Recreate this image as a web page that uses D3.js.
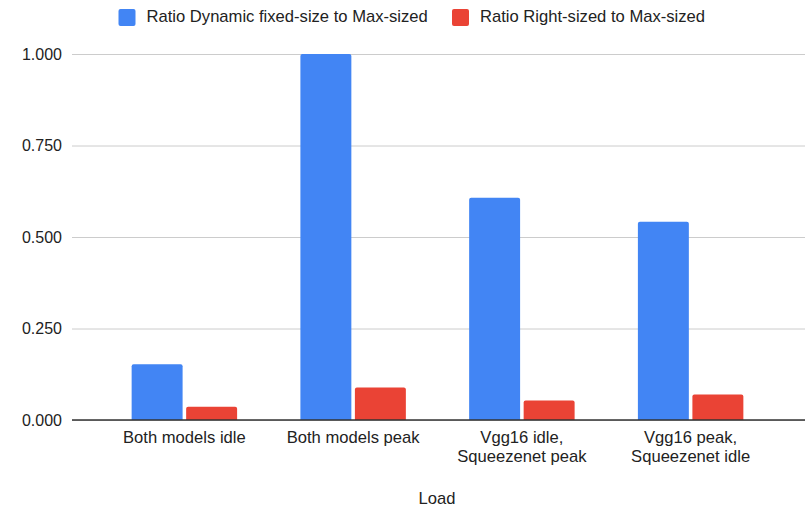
<!DOCTYPE html>
<html>
<head>
<meta charset="utf-8">
<script src="https://cdn.jsdelivr.net/npm/d3@7"></script>
<style>
  body { margin: 0; background: #fff; }
  svg { display: block; font-family: "Liberation Sans", Arial, sans-serif; }
</style>
</head>
<body>
<div id="chart"></div>
<script>
// Chart data.
const categories = [
    ['Both models idle'],
    ['Both models peak'],
    ['Vgg16 idle,', 'Squeezenet peak'],
    ['Vgg16 peak,', 'Squeezenet idle']
];
const seriesNames = ['Ratio Dynamic fixed-size to Max-sized', 'Ratio Right-sized to Max-sized'];
const dynamicFixed = [0.152, 1.000, 0.607, 0.542];
const rightSized = [0.036, 0.089, 0.053, 0.070];
const yTicks = [0, 0.25, 0.5, 0.75, 1.0];
const colors = ['#4285f4', '#ea4335'];
const xTitle = 'Load';

const width = 808, height = 509;
const fontSize = '16.6px';
const svg = d3.select('#chart').append('svg')
    .attr('width', width)
    .attr('height', height);

const catKeys = categories.map(c => c.join(' '));
const rows = catKeys.map((k, i) => ({ key: k, lines: categories[i], values: [dynamicFixed[i], rightSized[i]] }));

// Scales.
const y = d3.scaleLinear().domain([0, 1]).range([420, 54]);
const x0 = d3.scaleBand().domain(catKeys).range([100, 775])
    .paddingInner(0.375).paddingOuter(0.1875);
const x1 = d3.scaleBand().domain([0, 1]).range([0, x0.bandwidth()]).paddingInner(0.065);

// Gridlines and Y tick labels.
const grid = svg.append('g')
    .attr('transform', 'translate(72,0)')
    .call(d3.axisLeft(y).tickValues(yTicks).tickSize(-733).tickFormat(d3.format('.3f')).tickPadding(10));
grid.select('.domain').remove();
grid.selectAll('.tick line').attr('stroke', '#cccccc');
grid.selectAll('.tick text')
    .attr('fill', '#222')
    .style('font-size', '16px')
    .style('font-family', '"Liberation Sans", Arial, sans-serif');

// Bars with rounded tops.
const r = 2;
function barPath(x, w, top, base) {
    const h = base - top;
    const rr = Math.min(r, h / 2, w / 2);
    return `M${x},${base}V${top + rr}Q${x},${top} ${x + rr},${top}H${x + w - rr}Q${x + w},${top} ${x + w},${top + rr}V${base}Z`;
}
const groups = svg.append('g').selectAll('g')
    .data(rows)
    .enter().append('g')
        .attr('transform', d => `translate(${x0(d.key)},0)`);
groups.selectAll('path')
    .data(d => d.values.map((v, i) => ({ v, i })))
    .enter().append('path')
        .attr('d', d => barPath(x1(d.i), x1.bandwidth(), y(d.v), y(0)))
        .attr('fill', d => colors[d.i]);

// Zero baseline.
svg.append('line')
    .attr('x1', 72).attr('x2', 805)
    .attr('y1', y(0)).attr('y2', y(0))
    .attr('stroke', '#333')
    .attr('stroke-width', 1.5);

// X axis labels, one text per line.
const xLabels = svg.append('g').selectAll('g')
    .data(rows)
    .enter().append('g');
xLabels.selectAll('text')
    .data(d => d.lines.map((line, i) => ({ line, i, key: d.key })))
    .enter().append('text')
        .attr('x', d => x0(d.key) + x0.bandwidth() / 2)
        .attr('y', d => 443 + d.i * 18.5)
        .attr('text-anchor', 'middle')
        .attr('fill', '#222')
        .style('font-size', fontSize)
        .text(d => d.line);

// X axis title.
svg.append('text')
    .attr('x', 437).attr('y', 504)
    .attr('text-anchor', 'middle')
    .attr('fill', '#222')
    .style('font-size', fontSize)
    .text(xTitle);

// Legend.
const legendX = [118.5, 452];
const legend = svg.append('g').selectAll('g')
    .data(seriesNames)
    .enter().append('g')
        .attr('transform', (d, i) => `translate(${legendX[i]},9)`);
legend.append('rect')
    .attr('width', 17).attr('height', 17)
    .attr('rx', 2)
    .attr('fill', (d, i) => colors[i]);
legend.append('text')
    .attr('x', 28).attr('y', 13)
    .attr('fill', '#222')
    .style('font-size', fontSize)
    .text(d => d);
</script>
</body>
</html>
